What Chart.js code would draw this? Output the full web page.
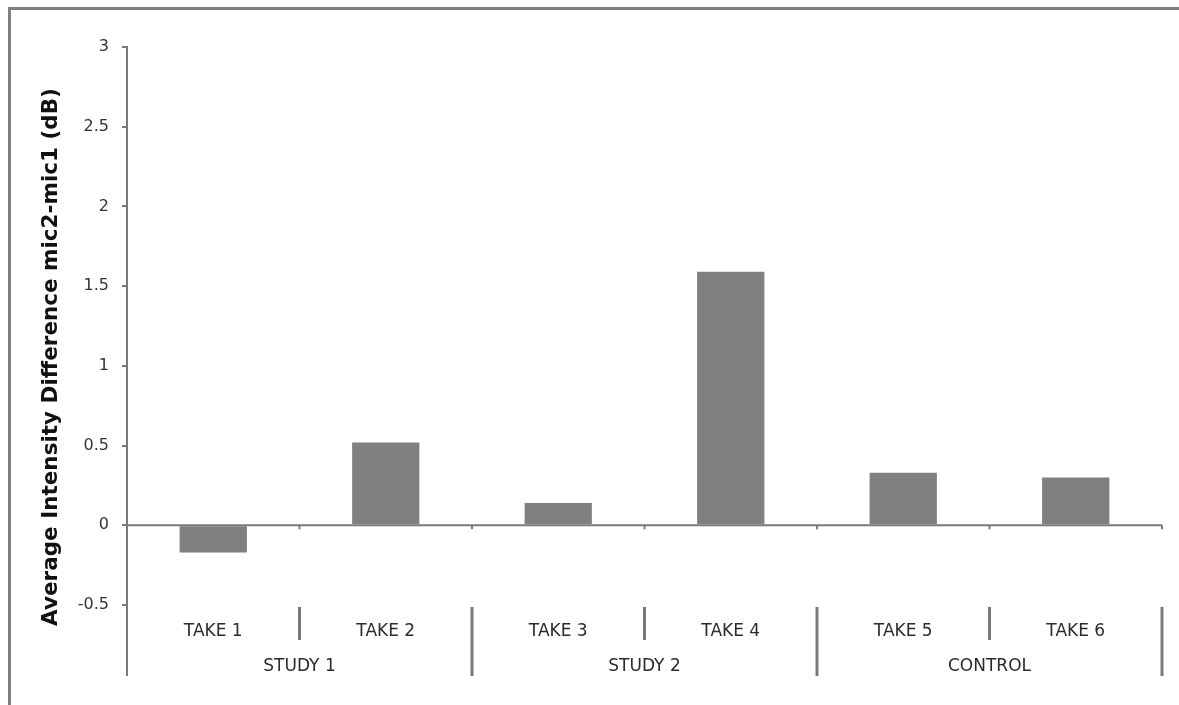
<!DOCTYPE html>
<html>
<head>
<meta charset="utf-8">
<script src="https://cdn.jsdelivr.net/npm/chart.js@4.4.0/dist/chart.umd.min.js"></script>
<style>
  html, body { margin: 0; padding: 0; background: #fff; overflow: hidden; }
  #wrap { width: 1179px; height: 705px; position: relative; }
</style>
</head>
<body>
<div id="wrap"><canvas id="micChart"></canvas></div>
<script>
// data
var takeLabels = ['TAKE 1', 'TAKE 2', 'TAKE 3', 'TAKE 4', 'TAKE 5', 'TAKE 6'];
var groupLabels = ['STUDY 1', 'STUDY 2', 'CONTROL'];
var groupSizes = [2, 2, 2];
var diffValues = [-0.17, 0.52, 0.14, 1.59, 0.33, 0.30];
var yMin = -0.5;
var yMax = 3;
var yStep = 0.5;
var yTitle = 'Average Intensity Difference mic2-mic1 (dB)';

var lineGrey = '#7a7a7a';
var textColor = '#2b2b2b';
var fontFam = '"DejaVu Sans", Verdana, sans-serif';

// frame, zero line, axis extension, separators, rotated title
var extrasPlugin = {
  id: 'extras',
  beforeDraw: function(chart) {
    var ctx = chart.ctx;
    ctx.save();
    ctx.strokeStyle = '#808080';
    ctx.lineWidth = 3;
    ctx.beginPath();
    ctx.moveTo(9.5, 705);
    ctx.lineTo(9.5, 8.5);
    ctx.lineTo(1179, 8.5);
    ctx.stroke();
    ctx.restore();
  },
  afterDraw: function(chart) {
    var ctx = chart.ctx;
    var xs = chart.scales.x;
    var ys = chart.scales.y;
    var area = chart.chartArea;
    var y0 = ys.getPixelForValue(0);
    var half = (xs.getPixelForValue(1) - xs.getPixelForValue(0)) / 2;
    var bottomEnd = area.bottom + 71;

    ctx.save();
    ctx.strokeStyle = lineGrey;
    ctx.lineWidth = 2;

    // zero line
    ctx.beginPath();
    ctx.moveTo(area.left, y0);
    ctx.lineTo(area.right, y0);
    ctx.stroke();

    // y axis carried down through the label rows
    ctx.beginPath();
    ctx.moveTo(area.left, area.top);
    ctx.lineTo(area.left, bottomEnd);
    ctx.stroke();

    // small ticks on the zero line and separators under the plot
    var idx = 0;
    var groupEnds = {};
    for (var g = 0; g < groupSizes.length; g++) {
      idx += groupSizes[g];
      groupEnds[idx] = true;
    }
    for (var i = 1; i <= takeLabels.length; i++) {
      var bx = xs.getPixelForValue(i - 1) + half;
      ctx.beginPath();
      ctx.moveTo(bx, y0);
      ctx.lineTo(bx, y0 + 4);
      ctx.stroke();

      ctx.lineWidth = 3;
      ctx.beginPath();
      ctx.moveTo(bx, area.bottom + 2);
      ctx.lineTo(bx, groupEnds[i] ? bottomEnd : area.bottom + 35);
      ctx.stroke();
      ctx.lineWidth = 2;
    }

    // y title
    ctx.translate(57, 357);
    ctx.rotate(-Math.PI / 2);
    ctx.fillStyle = '#111';
    ctx.font = 'bold 21.5px ' + fontFam;
    ctx.textAlign = 'center';
    ctx.textBaseline = 'alphabetic';
    ctx.fillText(yTitle, 0, 0);
    ctx.restore();
  }
};

var ctx = document.getElementById('micChart').getContext('2d');
var chart = new Chart(ctx, {
  type: 'bar',
  data: {
    labels: takeLabels,
    datasets: [{
      data: diffValues,
      backgroundColor: '#808080',
      borderWidth: 0,
      barPercentage: 0.78,
      categoryPercentage: 0.5
    }]
  },
  options: {
    responsive: true,
    maintainAspectRatio: false,
    animation: false,
    layout: { padding: { left: 0, top: 47, right: 17, bottom: 15 } },
    plugins: {
      legend: { display: false },
      tooltip: { enabled: false }
    },
    scales: {
      x: {
        type: 'category',
        position: 'bottom',
        weight: 0,
        offset: true,
        grid: { display: false, drawTicks: false },
        border: { display: false },
        ticks: {
          padding: 16,
          maxRotation: 0,
          autoSkip: false,
          color: textColor,
          font: { family: fontFam, size: 17 }
        },
        afterFit: function(s) { s.height = 45; }
      },
      x2: {
        type: 'category',
        position: 'bottom',
        weight: 1,
        offset: true,
        labels: groupLabels,
        grid: { display: false, drawTicks: false },
        border: { display: false },
        ticks: {
          padding: 6,
          maxRotation: 0,
          autoSkip: false,
          color: textColor,
          font: { family: fontFam, size: 17 }
        },
        afterFit: function(s) { s.height = 40; }
      },
      y: {
        min: yMin,
        max: yMax,
        grid: {
          drawOnChartArea: false,
          drawTicks: true,
          tickLength: 5,
          color: lineGrey,
          lineWidth: 2
        },
        border: { display: true, color: lineGrey, width: 2 },
        ticks: {
          stepSize: yStep,
          padding: 13,
          color: '#333',
          font: { family: fontFam, size: 16 },
          callback: function(v) { return String(v); }
        },
        afterFit: function(s) { s.width = 127; }
      }
    }
  },
  plugins: [extrasPlugin]
});
</script>
</body>
</html>
